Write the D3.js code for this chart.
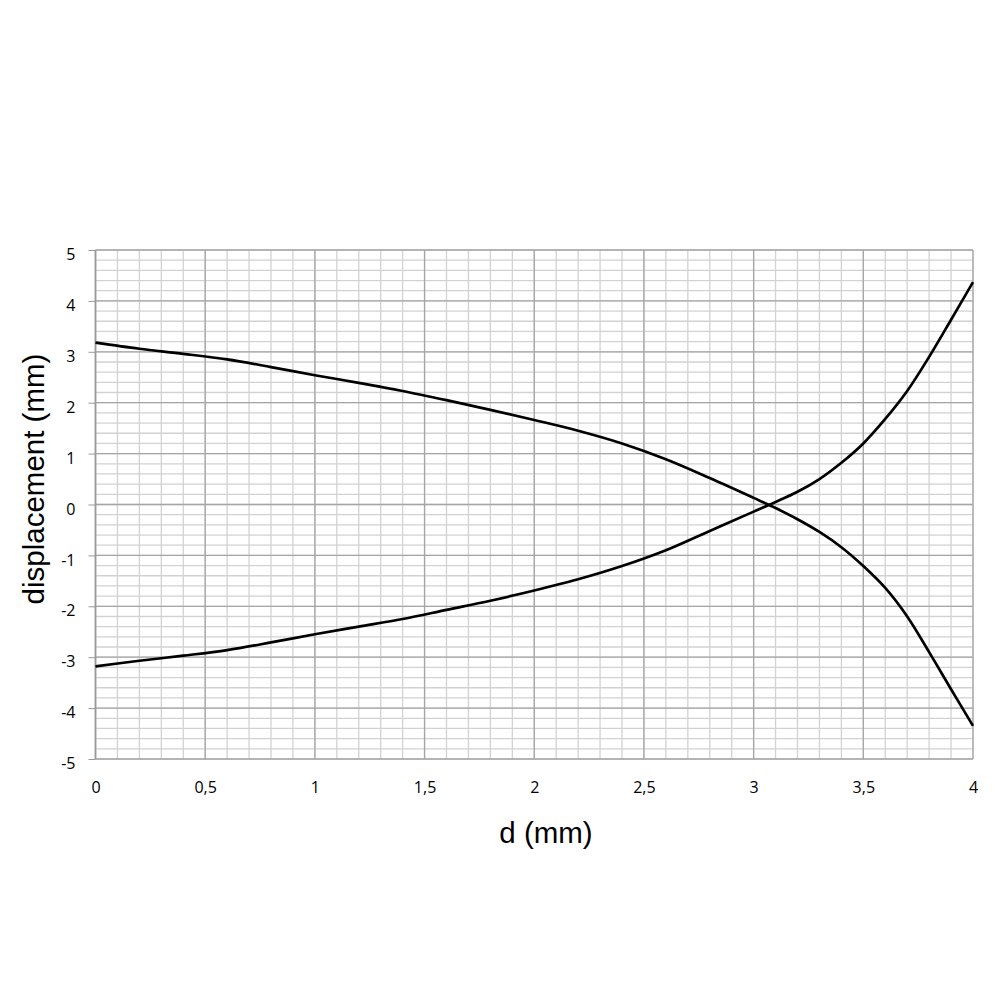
<!DOCTYPE html>
<html>
<head>
<meta charset="utf-8">
<title>displacement</title>
<script src="https://cdn.jsdelivr.net/npm/d3@7"></script>
<style>
    body { margin: 0; background: #fff; }
    .axis path { display: none; }
    .axis line { stroke: #999; }
    .title { font: 29.5px "Liberation Sans", Arial, sans-serif; fill: #000; }
    .curve { fill: none; stroke: #000; stroke-width: 2.7px; stroke-linejoin: round; }
</style>
</head>
<body>
<script>
// d (mm) sample positions
var dValues = [0, 0.2, 0.4, 0.6, 0.8, 1.0, 1.2, 1.4, 1.6, 1.8, 2.0, 2.2, 2.4, 2.6, 2.8, 3.0, 3.1, 3.2, 3.3, 3.4, 3.5, 3.6, 3.7, 3.8, 3.9, 4.0];
// falling curve
var seriesDown = [3.18, 3.06, 2.96, 2.85, 2.70, 2.54, 2.39, 2.23, 2.05, 1.86, 1.66, 1.45, 1.20, 0.89, 0.52, 0.13, -0.07, -0.29, -0.54, -0.84, -1.21, -1.64, -2.20, -2.90, -3.63, -4.35];
// rising curve
var seriesUp = [-3.18, -3.07, -2.97, -2.86, -2.71, -2.55, -2.40, -2.25, -2.07, -1.89, -1.69, -1.47, -1.21, -0.90, -0.52, -0.14, 0.05, 0.25, 0.50, 0.82, 1.20, 1.68, 2.23, 2.90, 3.63, 4.37];

var xTicks = [0, 0.5, 1, 1.5, 2, 2.5, 3, 3.5, 4];
var yTicks = [-5, -4, -3, -2, -1, 0, 1, 2, 3, 4, 5];
var xMinorStep = 0.1, yMinorStep = 0.2;

var margin = {top: 250, right: 27, bottom: 241, left: 95.5},
    width = 1000 - margin.left - margin.right,
    height = 1000 - margin.top - margin.bottom;

var x = d3.scaleLinear().domain([0, 4]).range([0, width]);
var y = d3.scaleLinear().domain([-5, 5]).range([height, 0]);

var svg = d3.select("body").append("svg")
    .attr("width", 1000)
    .attr("height", 1000);

var g = svg.append("g")
    .attr("transform", "translate(" + margin.left + "," + margin.top + ")");

// minor grid
var xMinor = d3.range(0, 4 + 1e-9, xMinorStep);
var yMinor = d3.range(-5, 5 + 1e-9, yMinorStep);

g.append("g").selectAll("line").data(xMinor).enter().append("line")
    .attr("x1", function(d) { return x(d); }).attr("x2", function(d) { return x(d); })
    .attr("y1", 0).attr("y2", height)
    .attr("stroke", "#d2d2d2").attr("stroke-width", 1.3);

g.append("g").selectAll("line").data(yMinor).enter().append("line")
    .attr("y1", function(d) { return y(d); }).attr("y2", function(d) { return y(d); })
    .attr("x1", 0).attr("x2", width)
    .attr("stroke", "#d2d2d2").attr("stroke-width", 1.3);

// major grid
g.append("g").selectAll("line").data(xTicks).enter().append("line")
    .attr("x1", function(d) { return x(d); }).attr("x2", function(d) { return x(d); })
    .attr("y1", 0).attr("y2", height)
    .attr("stroke", "#a6a6a6").attr("stroke-width", 1.3);

g.append("g").selectAll("line").data(yTicks).enter().append("line")
    .attr("y1", function(d) { return y(d); }).attr("y2", function(d) { return y(d); })
    .attr("x1", 0).attr("x2", width)
    .attr("stroke", "#a6a6a6").attr("stroke-width", 1.3);

// left axis line
g.append("line")
    .attr("x1", 0).attr("x2", 0).attr("y1", 0).attr("y2", height)
    .attr("stroke", "#999").attr("stroke-width", 1.6);

var comma = function(d) { return String(d).replace(".", ","); };
var tickFont = "'Open Sans', 'Noto Sans', sans-serif";

g.append("g")
    .attr("class", "axis axis--y")
    .call(d3.axisLeft(y).tickValues(yTicks).tickSize(7).tickPadding(13).tickFormat(comma))
    .selectAll("text")
    .attr("dy", "0.6em")
    .style("font-size", "16px").style("font-family", tickFont).attr("fill", "#000");

g.append("g")
    .attr("class", "axis axis--x")
    .attr("transform", "translate(0," + height + ")")
    .call(d3.axisBottom(x).tickValues(xTicks).tickSize(0).tickPadding(23).tickFormat(comma))
    .selectAll("text")
    .style("font-size", "16px").style("font-family", tickFont).attr("fill", "#000");

var line = d3.line()
    .curve(d3.curveCatmullRom.alpha(0.5))
    .x(function(d) { return x(d[0]); })
    .y(function(d) { return y(d[1]); });

[seriesDown, seriesUp].forEach(function(s) {
    g.append("path")
        .attr("class", "curve")
        .attr("d", line(d3.zip(dValues, s)));
});

svg.append("text")
    .attr("class", "title")
    .attr("x", 546).attr("y", 843)
    .attr("text-anchor", "middle")
    .text("d (mm)");

svg.append("text")
    .attr("class", "title")
    .attr("transform", "translate(44,479) rotate(-90)")
    .attr("text-anchor", "middle")
    .text("displacement (mm)");
</script>
</body>
</html>
